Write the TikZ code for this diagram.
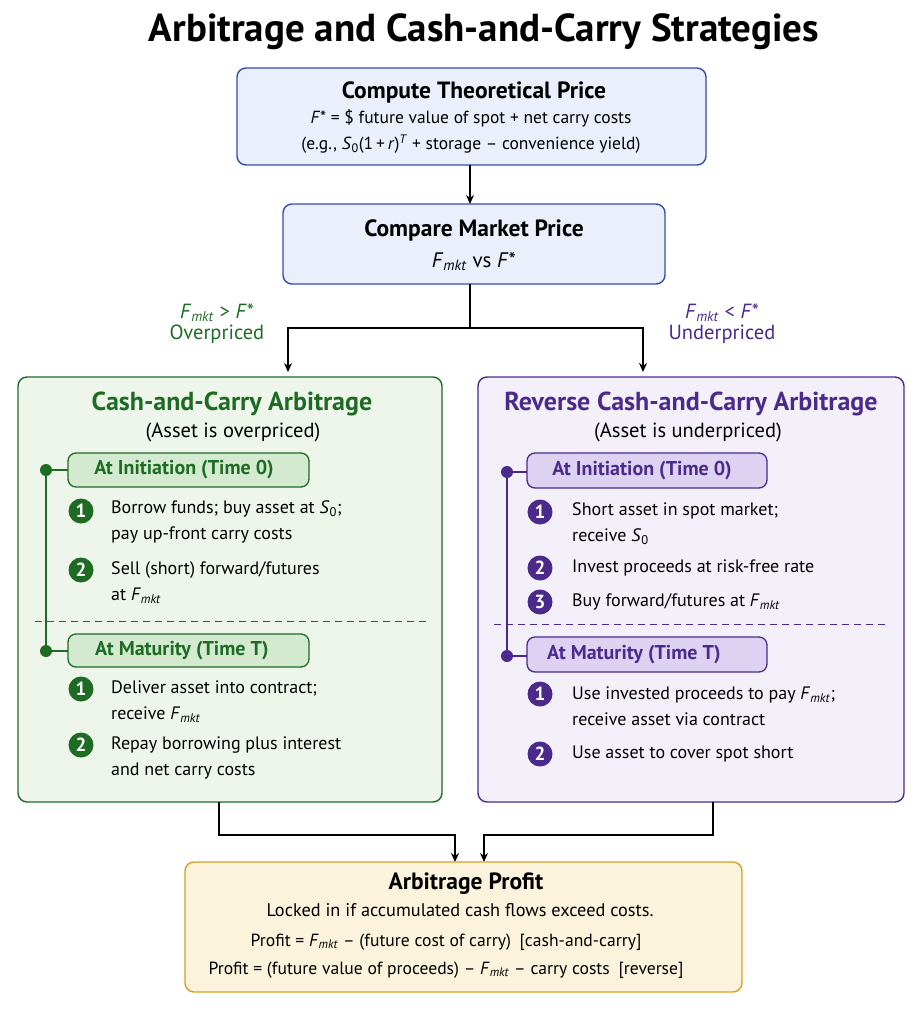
\documentclass[tikz,border=0pt]{standalone}
\usepackage{fontspec}
\setmainfont{PT Sans}
\usetikzlibrary{arrows.meta}
\definecolor{gD}{HTML}{1E6B23}\definecolor{gF}{HTML}{EEF6EC}\definecolor{gP}{HTML}{D3EAD0}
\definecolor{pD}{HTML}{4B2A8C}\definecolor{pF}{HTML}{F4F0FA}\definecolor{pP}{HTML}{DDD2F1}
\definecolor{bD}{HTML}{2F4FAF}\definecolor{bF}{HTML}{EAEFFB}
\definecolor{yD}{HTML}{D9A020}\definecolor{yF}{HTML}{FCF3DC}
\newcommand\Fmkt{\textit{F}\textsubscript{\textit{mkt}}}
\newcommand\Szero{\textit{S}\textsubscript{0}}
\begin{document}
\begin{tikzpicture}[x=1pt,y=-1pt,
 box/.style={draw=#1,line width=1.4pt,rounded corners=9pt},
 pill/.style={draw=#1,line width=1.3pt,rounded corners=8pt},
 num/.style={circle,fill=#1,text=white,inner sep=0pt,minimum size=25pt,font=\fontsize{19}{19}\selectfont\bfseries},
 item/.style={anchor=west,align=left,inner sep=0pt,font=\fontsize{18}{26}\selectfont},
 conn/.style={line width=1.4pt,-{Stealth[length=9pt,width=8pt]}},
 ln/.style={line width=1.4pt}]
\useasboundingbox (0,0) rectangle (922,1011);
\node (title) at (484,32) {\fontsize{39}{39}\selectfont\bfseries Arbitrage and Cash-and-Carry Strategies};
% box 1
\draw[box=bD,fill=bF] (237,68) rectangle (706,165);
\node at (474,92) {\fontsize{23.5}{23}\selectfont\bfseries Compute Theoretical Price};
\node at (471,118) {\fontsize{17.5}{17}\selectfont \textit{F}* = \$ future value of spot + net carry costs};
\node at (471,144) {\fontsize{17.5}{17}\selectfont (e.g., \Szero(1\,+\,\textit{r})\textsuperscript{\textit{T}} + storage -- convenience yield)};
\draw[box=bD,fill=bF] (283,204) rectangle (665,284);
\node at (474,230) {\fontsize{23.5}{23}\selectfont\bfseries Compare Market Price};
\node at (474,262) {\fontsize{21}{21}\selectfont \Fmkt\ vs \textit{F}*};
\coordinate (b1s) at (470,165); \coordinate (b2n) at (470,204);
\draw[conn] (b1s) -- (b2n);
\coordinate (b2s) at (470,284); \coordinate (sp) at (470,328);
\coordinate (lt) at (288,372); \coordinate (rt) at (643,372);
\draw[ln] (b2s) -- (sp);
\draw[conn] (sp) -| (lt);
\draw[conn] (sp) -| (rt);
\node[text=gD,align=center,font=\fontsize{20.5}{21}\selectfont] at (217,324) {\Fmkt\ > \textit{F}*\\Overpriced};
\node[text=pD,align=center,font=\fontsize{20.5}{21}\selectfont] at (722,324) {\Fmkt\ < \textit{F}*\\Underpriced};
% left panel
\draw[box=gD,fill=gF] (18,377) rectangle (442,802);
\node[text=gD] at (232,404) {\fontsize{26}{26}\selectfont\bfseries Cash-and-Carry Arbitrage};
\node at (233,432) {\fontsize{20.5}{20}\selectfont (Asset is overpriced)};
\draw[ln,gD] (46,470) -- (46,651);
\draw[ln,gD] (46,470) -- (68,470) (46,651) -- (68,651);
\fill[gD] (46,470) circle (6) (46,651) circle (6);
\draw[pill=gD,fill=gP] (68,453) rectangle (309,487);
\node[text=gD] at (184,470) {\fontsize{20}{20}\selectfont\bfseries At Initiation (Time 0)};
\draw[dashed,gD,line width=1pt,dash pattern=on 7pt off 5pt] (35,621) -- (428,621);
\draw[pill=gD,fill=gP] (68,634) rectangle (309,667);
\node[text=gD] at (182,651) {\fontsize{20}{20}\selectfont\bfseries At Maturity (Time T)};
\node[num=gD] at (81,511) {1}; \node[item] at (111,522) {Borrow funds; buy asset at \Szero;\\pay up-front carry costs};
\node[num=gD] at (81,570) {2}; \node[item] at (111,583) {Sell (short) forward/futures\\at \Fmkt};
\node[num=gD] at (81,689) {1}; \node[item] at (111,702) {Deliver asset into contract;\\receive \Fmkt};
\node[num=gD] at (81,745) {2}; \node[item] at (111,758) {Repay borrowing plus interest\\and net carry costs};
% right panel
\draw[box=pD,fill=pF] (478,377) rectangle (904,802);
\node[text=pD] at (691,404) {\fontsize{26}{26}\selectfont\bfseries Reverse Cash-and-Carry Arbitrage};
\node at (688,432) {\fontsize{20.5}{20}\selectfont (Asset is underpriced)};
\draw[ln,pD] (507,472) -- (507,656);
\draw[ln,pD] (507,472) -- (527,472) (507,656) -- (527,656);
\fill[pD] (507,472) circle (6) (507,656) circle (6);
\draw[pill=pD,fill=pP] (527,453) rectangle (767,488);
\node[text=pD] at (642,471) {\fontsize{20}{20}\selectfont\bfseries At Initiation (Time 0)};
\draw[dashed,pD,line width=1pt,dash pattern=on 7pt off 5pt] (494,624) -- (888,624);
\draw[pill=pD,fill=pP] (527,637) rectangle (767,672);
\node[text=pD] at (634,655) {\fontsize{20}{20}\selectfont\bfseries At Maturity (Time T)};
\node[num=pD] at (540,512) {1}; \node[item] at (572,524) {Short asset in spot market;\\receive \Szero};
\node[num=pD] at (540,568) {2}; \node[item] at (572,568) {Invest proceeds at risk-free rate};
\node[num=pD] at (540,602) {3}; \node[item] at (572,602) {Buy forward/futures at \Fmkt};
\node[num=pD] at (540,694) {1}; \node[item] at (572,706) {Use invested proceeds to pay \Fmkt;\\receive asset via contract};
\node[num=pD] at (540,754) {2}; \node[item] at (572,754) {Use asset to cover spot short};
% bottom
\coordinate (ls) at (219,802); \coordinate (lm) at (219,835); \coordinate (ld) at (455,862);
\coordinate (rs) at (713,802); \coordinate (rm) at (713,835); \coordinate (rd) at (484,862);
\draw[conn] (ls) -- (lm) -| (ld);
\draw[conn] (rs) -- (rm) -| (rd);
\draw[box=yD,fill=yF] (185,862) rectangle (742,992);
\node at (466,884) {\fontsize{23.5}{23}\selectfont\bfseries Arbitrage Profit};
\node at (460,910) {\fontsize{18.3}{18}\selectfont Locked in if accumulated cash flows exceed costs.};
\node at (446,942) {\fontsize{17.6}{17}\selectfont Profit = \Fmkt\ -- (future cost of carry)\enspace[cash-and-carry]};
\node at (446,970) {\fontsize{17.6}{17}\selectfont Profit = (future value of proceeds) -- \Fmkt\ -- carry costs\enspace[reverse]};
\end{tikzpicture}
\end{document}
